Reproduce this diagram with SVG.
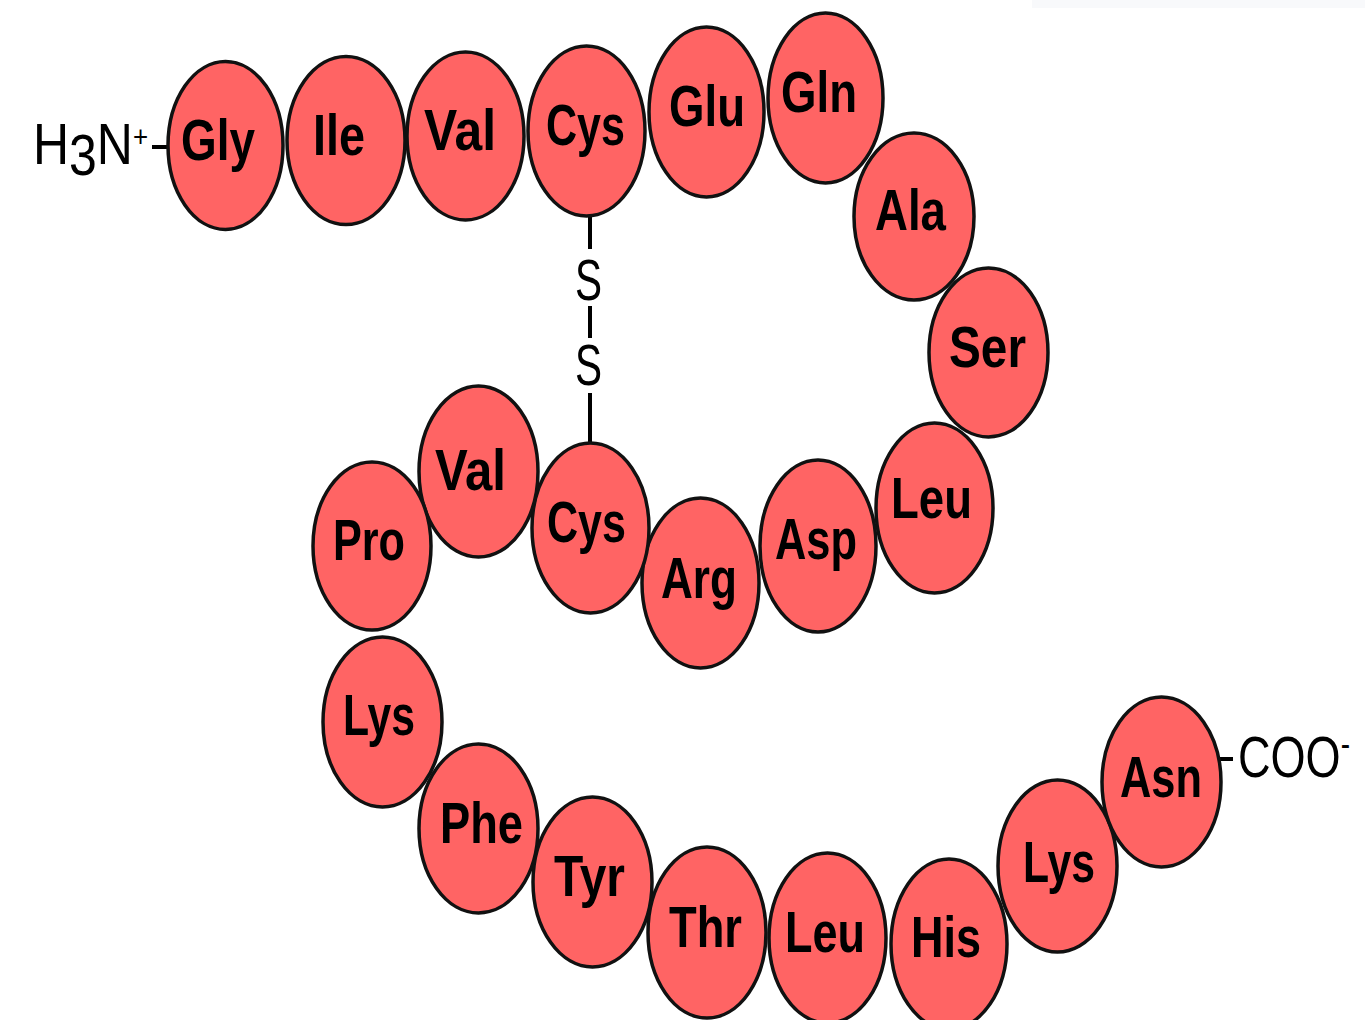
<svg xmlns="http://www.w3.org/2000/svg" width="1365" height="1020" viewBox="0 0 1365 1020">
<style>
.res ellipse{fill:#ff6464;stroke:#111;stroke-width:3.5}
.res text{font-family:"Liberation Sans",Arial,sans-serif;font-weight:bold;font-size:58px;fill:#000;text-anchor:middle}
.term{font-family:"Liberation Sans",Arial,sans-serif;font-size:58px;fill:#000}
.bond{stroke:#000;stroke-width:4;fill:none}
</style>
<rect width="1365" height="1020" fill="#fff"/>
<rect x="1032" y="0" width="333" height="8" fill="#f8f9fb"/>
<g id="connectors">
<line class="bond" x1="152" y1="147" x2="168" y2="147"/>
<line class="bond" x1="1220" y1="759" x2="1233" y2="759"/>
<line class="bond" x1="590" y1="214" x2="590" y2="249"/>
<line class="bond" x1="590" y1="306" x2="590" y2="338"/>
<line class="bond" x1="590" y1="393" x2="590" y2="445"/>
</g>
<g id="n-term"><text class="term" x="33" y="164" textLength="115" lengthAdjust="spacingAndGlyphs">H<tspan dy="11">3</tspan><tspan dy="-11">N</tspan><tspan font-size="30" dy="-17">+</tspan></text></g>
<g id="ss1"><text class="term" x="588.5" y="300" text-anchor="middle" font-size="59" textLength="27" lengthAdjust="spacingAndGlyphs">S</text></g>
<g id="ss2"><text class="term" x="588.5" y="385" text-anchor="middle" font-size="59" textLength="27" lengthAdjust="spacingAndGlyphs">S</text></g>
<g id="r1" class="res"><ellipse cx="225.5" cy="145.5" rx="57.5" ry="84"/><text x="218" y="160" textLength="74" lengthAdjust="spacingAndGlyphs">Gly</text></g>
<g id="r2" class="res"><ellipse cx="346" cy="140.5" rx="59" ry="84"/><text x="339" y="155" textLength="52" lengthAdjust="spacingAndGlyphs">Ile</text></g>
<g id="r3" class="res"><ellipse cx="465.5" cy="136" rx="58.5" ry="84"/><text x="460" y="150" textLength="72" lengthAdjust="spacingAndGlyphs">Val</text></g>
<g id="r4" class="res"><ellipse cx="586.5" cy="131" rx="58.5" ry="85"/><text x="585.5" y="145" textLength="79" lengthAdjust="spacingAndGlyphs">Cys</text></g>
<g id="r5" class="res"><ellipse cx="706.5" cy="112" rx="57.5" ry="85"/><text x="707" y="126" textLength="76" lengthAdjust="spacingAndGlyphs">Glu</text></g>
<g id="r6" class="res"><ellipse cx="825.5" cy="98" rx="57.5" ry="85"/><text x="819" y="112" textLength="76" lengthAdjust="spacingAndGlyphs">Gln</text></g>
<g id="r7" class="res"><ellipse cx="914" cy="216.5" rx="60" ry="83.5"/><text x="910.5" y="230" textLength="71" lengthAdjust="spacingAndGlyphs">Ala</text></g>
<g id="r8" class="res"><ellipse cx="988.5" cy="352.5" rx="59.5" ry="84.5"/><text x="987.5" y="367" textLength="77" lengthAdjust="spacingAndGlyphs">Ser</text></g>
<g id="r9" class="res"><ellipse cx="934.5" cy="508" rx="58.5" ry="85"/><text x="931.5" y="518" textLength="81" lengthAdjust="spacingAndGlyphs">Leu</text></g>
<g id="r10" class="res"><ellipse cx="818" cy="546" rx="58" ry="86"/><text x="816" y="559" textLength="82" lengthAdjust="spacingAndGlyphs">Asp</text></g>
<g id="r11" class="res"><ellipse cx="700.5" cy="583" rx="58.5" ry="85"/><text x="699" y="598" textLength="76" lengthAdjust="spacingAndGlyphs">Arg</text></g>
<g id="r12" class="res"><ellipse cx="590.5" cy="528" rx="58.5" ry="85"/><text x="586.5" y="542" textLength="79" lengthAdjust="spacingAndGlyphs">Cys</text></g>
<g id="r13" class="res"><ellipse cx="478.5" cy="471.5" rx="59.5" ry="85.5"/><text x="470.5" y="490" textLength="71" lengthAdjust="spacingAndGlyphs">Val</text></g>
<g id="r14" class="res"><ellipse cx="372" cy="546" rx="59" ry="84"/><text x="369" y="560" textLength="72" lengthAdjust="spacingAndGlyphs">Pro</text></g>
<g id="r15" class="res"><ellipse cx="382.5" cy="722" rx="59.5" ry="85"/><text x="379" y="735" textLength="72" lengthAdjust="spacingAndGlyphs">Lys</text></g>
<g id="r16" class="res"><ellipse cx="478.5" cy="828.5" rx="59.5" ry="84.5"/><text x="481.5" y="843" textLength="83" lengthAdjust="spacingAndGlyphs">Phe</text></g>
<g id="r17" class="res"><ellipse cx="592.5" cy="882" rx="59.5" ry="85"/><text x="589.5" y="896" textLength="71" lengthAdjust="spacingAndGlyphs">Tyr</text></g>
<g id="r18" class="res"><ellipse cx="707" cy="932.5" rx="59" ry="85.5"/><text x="705.5" y="947" textLength="73" lengthAdjust="spacingAndGlyphs">Thr</text></g>
<g id="r19" class="res"><ellipse cx="827.5" cy="938" rx="58.5" ry="85"/><text x="825" y="952" textLength="80" lengthAdjust="spacingAndGlyphs">Leu</text></g>
<g id="r20" class="res"><ellipse cx="949" cy="944" rx="58" ry="85"/><text x="946" y="957" textLength="70" lengthAdjust="spacingAndGlyphs">His</text></g>
<g id="r21" class="res"><ellipse cx="1057.5" cy="866" rx="59.5" ry="86"/><text x="1059" y="882" textLength="72" lengthAdjust="spacingAndGlyphs">Lys</text></g>
<g id="r22" class="res"><ellipse cx="1161.5" cy="782" rx="59.5" ry="85"/><text x="1161" y="797" textLength="82" lengthAdjust="spacingAndGlyphs">Asn</text></g>
<g id="c-term"><text class="term" x="1238" y="777" textLength="112" lengthAdjust="spacingAndGlyphs">COO<tspan font-size="36" dy="-21">-</tspan></text></g>
</svg>
